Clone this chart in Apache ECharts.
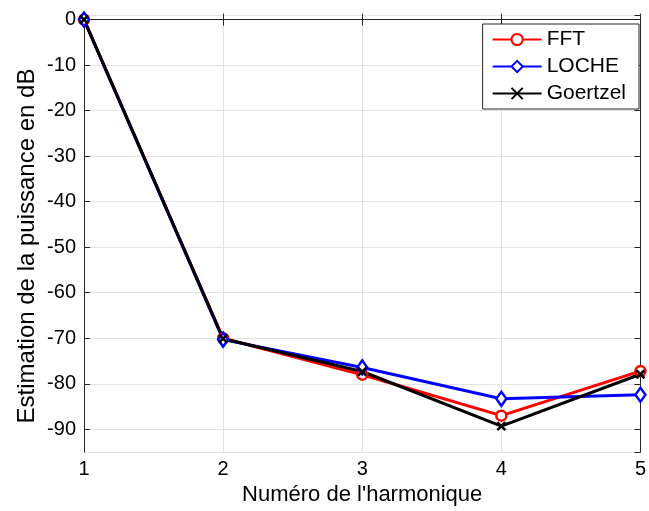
<!DOCTYPE html>
<html><head><meta charset="utf-8">
<script src="https://cdn.jsdelivr.net/npm/echarts@6/dist/echarts.min.js"></script>
<style>html,body{margin:0;padding:0;background:#fff}#c{width:649px;height:511px}</style>
</head><body><div id="c"></div>
<script>
var harmonics = [1, 2, 3, 4, 5];
var fft = [0, -70.0, -78.0, -87.0, -77.2];
var loche = [0, -70.3, -76.4, -83.3, -82.4];
var goertzel = [0, -70.1, -77.3, -89.3, -77.9];
var seriesNames = ['FFT', 'LOCHE', 'Goertzel'];
var xTitle = "Numéro de l'harmonique";
var yTitle = 'Estimation de la puissance en dB';

function pairs(v){ return harmonics.map(function(h,i){ return [h, v[i]]; }); }
var font = 'Liberation Sans, Arial, sans-serif';
var axisCol = '#262626';
var chart = echarts.init(document.getElementById('c'));
var crossPath = 'path://M0,0L10,10M10,0L0,10';
chart.setOption({
  animation: false,
  backgroundColor: '#fff',
  grid: {left: 84, right: 6, top: 15, bottom: 57, containLabel: false},
  graphic: [{
    type: 'text', x: 27, y: 246, rotation: Math.PI / 2,
    style: {text: yTitle, fontFamily: font, fontSize: 24, fill: '#000', align: 'center', verticalAlign: 'middle'}
  }],
  legend: {
    top: 24, right: 10, orient: 'vertical',
    backgroundColor: '#fff', borderColor: axisCol, borderWidth: 1,
    padding: [5, 13, 5, 9], itemGap: 6, itemWidth: 49, itemHeight: 14,
    textStyle: {fontFamily: font, fontSize: 21, color: '#000'},
    data: seriesNames
  },
  xAxis: [{
    type: 'value', min: 1, max: 5, interval: 1,
    name: xTitle, nameLocation: 'middle', nameGap: 27,
    nameTextStyle: {fontFamily: font, fontSize: 22, color: '#000'},
    axisLine: {lineStyle: {color: axisCol, width: 1}},
    axisTick: {inside: true, length: 6, lineStyle: {color: axisCol}},
    axisLabel: {fontFamily: font, fontSize: 20, color: '#000', margin: 7},
    splitLine: {show: true, lineStyle: {color: '#e3e3e3', width: 1}}
  }, {
    type: 'value', min: 1, max: 5, interval: 1, position: 'top',
    axisLine: {show: true, lineStyle: {color: axisCol, width: 1}},
    axisTick: {inside: true, length: 6, lineStyle: {color: axisCol}},
    axisLabel: {show: false}, splitLine: {show: false}
  }],
  yAxis: [{
    type: 'value', min: -95, max: 1, splitNumber: 10,
    axisLine: {show: true, lineStyle: {color: axisCol, width: 1}},
    axisTick: {inside: true, length: 6, lineStyle: {color: axisCol}},
    axisLabel: {fontFamily: font, fontSize: 20, color: '#000', margin: 8, showMinLabel: false, showMaxLabel: false},
    splitLine: {show: true, lineStyle: {color: '#e3e3e3', width: 1}}
  }, {
    type: 'value', min: -95, max: 1, splitNumber: 10, position: 'right',
    axisLine: {show: true, lineStyle: {color: axisCol, width: 1}},
    axisTick: {inside: true, length: 6, lineStyle: {color: axisCol}},
    axisLabel: {show: false}, splitLine: {show: false}
  }],
  series: [{
    name: 'FFT', type: 'line', data: pairs(fft),
    symbol: 'circle', symbolSize: 10, showAllSymbol: true,
    lineStyle: {color: '#ff0000', width: 3},
    itemStyle: {color: '#fff', borderColor: '#ff0000', borderWidth: 2.5}
  }, {
    name: 'LOCHE', type: 'line', data: pairs(loche),
    symbol: 'diamond', symbolSize: [10, 14],
    lineStyle: {color: '#0000ff', width: 3},
    itemStyle: {color: '#fff', borderColor: '#0000ff', borderWidth: 2.5}
  }, {
    name: 'Goertzel', type: 'line', data: pairs(goertzel),
    symbol: crossPath, symbolSize: 8,
    lineStyle: {color: '#000', width: 3},
    itemStyle: {color: '#000', borderColor: '#000', borderWidth: 2.5}
  }]
});
</script></body></html>
